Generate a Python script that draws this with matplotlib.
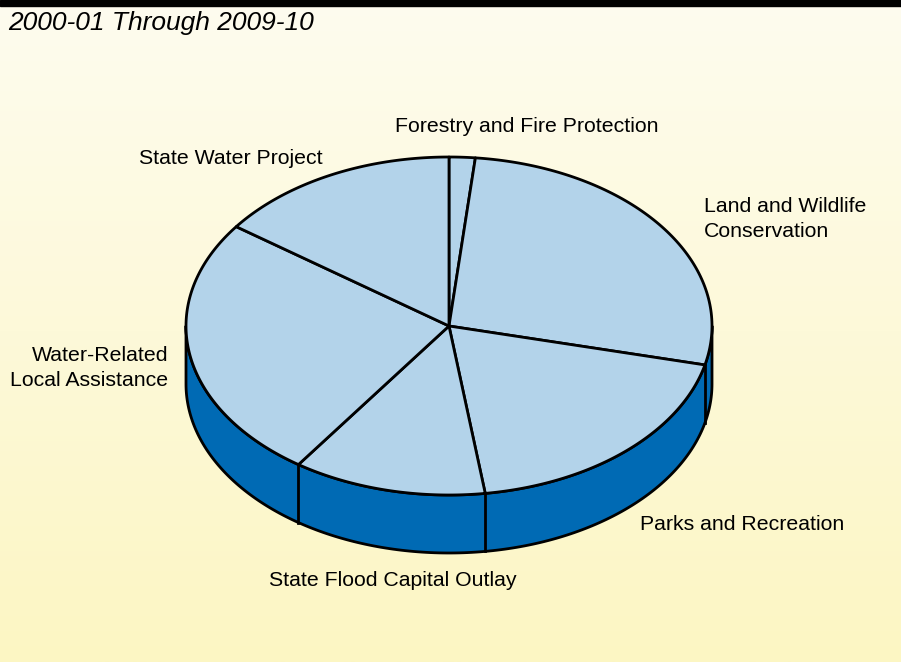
import numpy as np
import matplotlib
matplotlib.use('Agg')
import matplotlib.pyplot as plt
from matplotlib.patches import Polygon
from matplotlib.colors import LinearSegmentedColormap

# share of spending, percent
labels = ['Forestry and Fire Protection', 'Land and Wildlife\nConservation',
          'Parks and Recreation', 'State Flood Capital Outlay',
          'Water-Related\nLocal Assistance', 'State Water Project']
values = [1.6, 27.1, 19.1, 11.9, 25.3, 15.0]

TOP   = '#b3d3ea'
SIDE  = '#006ab4'
LINE  = '#000000'
FONT  = 'Liberation Sans'

W, H = 901, 662
fig = plt.figure(figsize=(W / 100, H / 100), dpi=100)
ax = fig.add_axes([0, 0, 1, 1])
ax.set_xlim(0, W)
ax.set_ylim(H, 0)
ax.axis('off')

# background: pale cream to light yellow
grad = np.linspace(0, 1, 256).reshape(-1, 1)
cmap = LinearSegmentedColormap.from_list('bg', ['#fefcef', '#fcf6c3'])
ax.imshow(grad, extent=[0, W, H, 0], aspect='auto', cmap=cmap, zorder=0)
ax.add_patch(plt.Rectangle((0, 0), W, 6, color='black', zorder=1))

ax.text(8, 23, '2000-01 Through 2009-10', fontsize=19, style='italic',
        family=FONT, ha='left', va='center', zorder=5)

# pie geometry (pixels)
cx, cy, a, b, depth = 449, 326, 263, 169, 58
LW = 2.0

def pt(t, dy=0):
    r = np.radians(t)
    return cx + a * np.cos(r), cy - b * np.sin(r) + dy

# front side band
ts = np.linspace(180, 360, 200)
top = [pt(t) for t in ts]
bot = [pt(t, depth) for t in ts[::-1]]
ax.add_patch(Polygon(top + bot, closed=True, facecolor=SIDE, edgecolor=LINE,
                     lw=LW, joinstyle='round', zorder=2))

# slice boundaries, clockwise from 12 o'clock
vals = np.array(values)
bounds = 90 - 360 * np.concatenate([[0], np.cumsum(vals) / vals.sum()])

for t in bounds[1:-1]:
    tm = t % 360
    if 180 < tm < 360:
        x0, y0 = pt(tm)
        ax.plot([x0, x0], [y0, y0 + depth], color=LINE, lw=LW, zorder=3)

# top slices
for i in range(len(values)):
    t1, t2 = bounds[i], bounds[i + 1]
    arc = [pt(t) for t in np.linspace(t1, t2, 100)]
    ax.add_patch(Polygon([(cx, cy)] + arc, closed=True, facecolor=TOP,
                         edgecolor=LINE, lw=LW, joinstyle='round', zorder=4))

# labels
fs = 15.3
ax.text(527, 126, labels[0], fontsize=fs, family=FONT, ha='center', va='center', zorder=5)
ax.text(704, 219, labels[1], fontsize=fs, family=FONT, ha='left', va='center',
        linespacing=1.45, zorder=5)
ax.text(640, 524, labels[2], fontsize=fs, family=FONT, ha='left', va='center', zorder=5)
ax.text(393, 580, labels[3], fontsize=fs, family=FONT, ha='center', va='center', zorder=5)
ax.text(168, 368, labels[4], fontsize=fs, family=FONT, ha='right', va='center',
        multialignment='right', linespacing=1.45, zorder=5)
ax.text(231, 159, labels[5], fontsize=fs, family=FONT, ha='center', va='center', zorder=5)

fig.savefig('out.png', dpi=100)
